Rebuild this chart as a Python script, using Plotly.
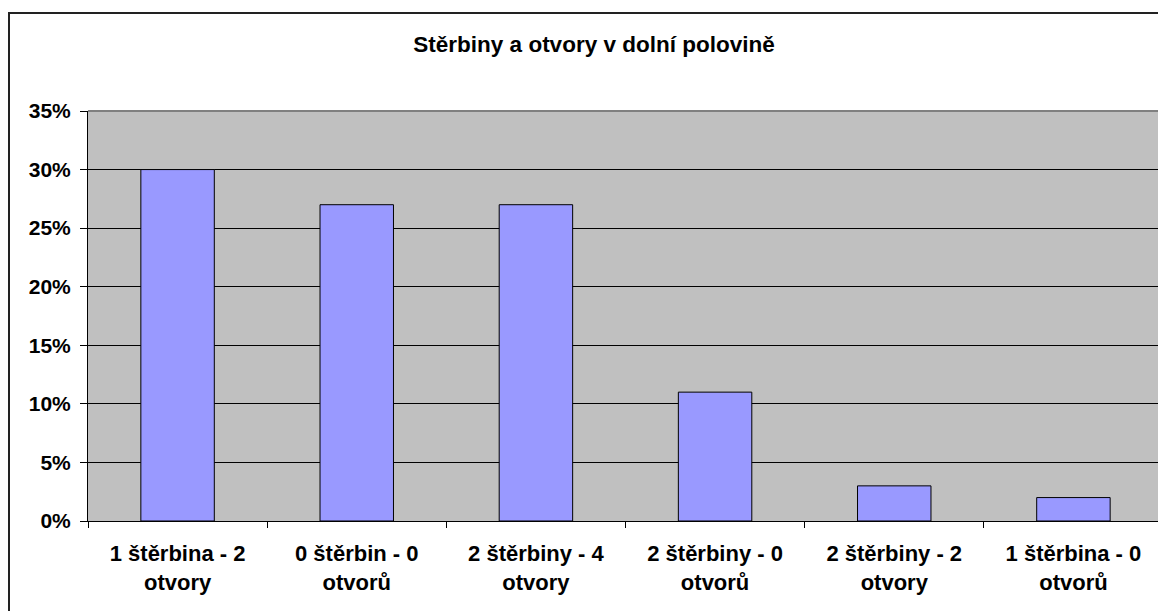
import plotly.graph_objects as go

categories = ["1 štěrbina - 2<br>otvory", "0 štěrbin - 0<br>otvorů", "2 štěrbiny - 4<br>otvory",
              "2 štěrbiny - 0<br>otvorů", "2 štěrbiny - 2<br>otvory", "1 štěrbina - 0<br>otvorů"]
values = [30, 27, 27, 11, 3, 2]
y_ticks = [0, 5, 10, 15, 20, 25, 30, 35]
y_tick_labels = ["0%", "5%", "10%", "15%", "20%", "25%", "30%", "35%"]
title_text = "Stěrbiny a otvory v dolní polovině"

# page is offset by the 8px body margin; coordinates below are figure pixels
W, H = 1158, 603
L, R, T, B = 80, 1155, 103, 513

fam = "Liberation Sans, Arial, sans-serif"
yfont = dict(family=fam, size=21, color="black", weight="bold")
xfont = dict(family=fam, size=22, color="black", weight="bold")

fig = go.Figure()
fig.add_trace(go.Bar(
    x=categories, y=values, width=0.41,
    marker=dict(color="#9999FF", line=dict(color="black", width=1)),
))

def px_x(p):
    return (p - L) / (R - L)

def px_y(p):
    return (B - p) / (B - T)

fig.update_layout(
    width=W, height=H,
    margin=dict(l=L, r=W - R, t=T, b=H - B),
    paper_bgcolor="white", plot_bgcolor="#C0C0C0",
    showlegend=False,
    font=yfont,
    title=dict(text=title_text, x=586 / W, xanchor="center", xref="container",
               y=1 - 36 / H, yanchor="middle", yref="container",
               font=dict(family=fam, size=22.5, color="black", weight="bold")),
    bargap=0.59,
    xaxis=dict(showgrid=False, showline=True, linecolor="black", linewidth=1,
               ticks="outside", tickson="boundaries", ticklen=6, tickcolor="black",
               tickfont=xfont, ticklabelstandoff=13),
    yaxis=dict(range=[0, 35], tickvals=y_ticks, ticktext=y_tick_labels,
               showgrid=True, gridcolor="black", gridwidth=1,
               showline=True, linecolor="black", linewidth=1,
               ticks="outside", ticklen=7, tickcolor="black",
               tickfont=yfont, ticklabelstandoff=5, zeroline=False),
    shapes=[
        dict(type="line", xref="paper", yref="paper", x0=0, x1=1, y0=1, y1=1,
             line=dict(color="#808080", width=2), layer="above"),
        dict(type="line", xref="paper", yref="paper", x0=1, x1=1, y0=0, y1=1,
             line=dict(color="#808080", width=2), layer="above"),
        dict(type="rect", xref="paper", yref="paper",
             x0=px_x(1), x1=px_x(1180), y0=px_y(640), y1=px_y(5),
             line=dict(color="#222222", width=2), fillcolor="rgba(0,0,0,0)", layer="above"),
    ],
)

fig.write_html("out.html")
